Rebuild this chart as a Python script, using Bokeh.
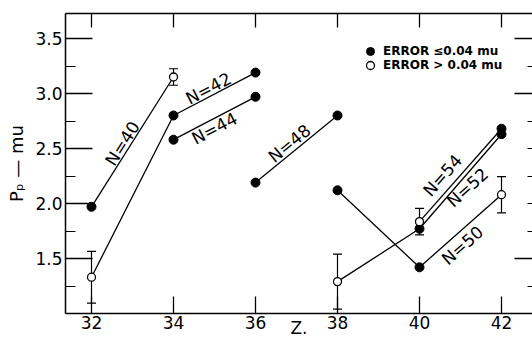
import math
from bokeh.plotting import figure
from bokeh.models import (Range1d, FixedTicker, LinearAxis, Label, Whisker,
                          ColumnDataSource, Legend, LegendItem, TeeHead, PrintfTickFormatter)
from bokeh.embed import file_html
from bokeh.resources import INLINE

# ---------------- data ----------------
series_names = ["N=40", "N=42", "N=44", "N=48", "N=50", "N=52", "N=54"]
series_z = [[32, 34], [32, 34, 36], [34, 36], [36, 38], [38, 40, 42], [38, 40, 42], [40, 42]]
series_p = [[1.97, 3.15], [1.33, 2.80, 3.19], [2.58, 2.97], [2.19, 2.80],
            [2.12, 1.42, 2.08], [1.29, 1.77, 2.63], [1.835, 2.68]]

filled_z = [32, 34, 34, 36, 36, 36, 38, 38, 40, 40, 42, 42]
filled_p = [1.97, 2.80, 2.58, 3.19, 2.97, 2.19, 2.80, 2.12, 1.42, 1.77, 2.63, 2.68]

open_z = [32, 34, 38, 40, 42]
open_p = [1.33, 3.15, 1.29, 1.835, 2.08]
open_err = [0.235, 0.075, 0.25, 0.12, 0.165]

x_ticks = [32, 34, 36, 38, 40, 42]
y_ticks = [1.5, 2.0, 2.5, 3.0, 3.5]
y_minor = [1.25, 1.75, 2.25, 2.75, 3.25]
right_major = [1.5, 3.0, 3.5]
right_minor = [1.25, 1.75, 2.0, 2.25, 2.5, 2.75, 3.25]
legend_labels = ["ERROR \u22640.04 mu", "ERROR > 0.04 mu"]
x_title = "Z."
y_title = "P\u209a \u2014 mu"

# ---------------- layout ----------------
W, H = 532, 340
FL, FT, FB = 65, 13, 27           # frame borders (px)
PXU_X, PXU_Y = 41.0, 110.0        # pixels per unit
X0 = 32 - 26 / PXU_X
X1 = X0 + (W - FL) / PXU_X
Y0 = 1.0
Y1 = Y0 + (H - FT - FB) / PXU_Y
FRAME_BOTTOM = H - FB


def fx(px):
    return X0 + (px - FL) / PXU_X


def fy(py):
    return Y0 + (FRAME_BOTTOM - py) / PXU_Y


FONT = "DejaVu Sans"

p = figure(width=W, height=H, x_range=Range1d(X0, X1), y_range=Range1d(Y0, Y1),
           output_backend="svg", toolbar_location=None,
           x_axis_location=None, y_axis_location=None,
           min_border_left=FL, min_border_right=0, min_border_top=FT, min_border_bottom=FB,
           outline_line_color=None, background_fill_color="white", border_fill_color="white")
p.grid.visible = False

ax_common = dict(axis_line_color="black", axis_line_width=1.5,
                 major_tick_line_color="black", major_tick_line_width=1.3,
                 minor_tick_line_color="black", minor_tick_line_width=1.2,
                 major_tick_out=0, minor_tick_out=0,
                 major_label_text_font=FONT, major_label_text_font_size="17px",
                 major_label_text_color="black",
                 axis_label_text_font=FONT, axis_label_text_font_style="normal",
                 axis_label_text_color="black")
hidden_labels = dict(major_label_text_font_size="1px", major_label_text_color=None,
                     major_label_standoff=0)

bottom = LinearAxis(ticker=FixedTicker(ticks=x_ticks), major_tick_in=17, minor_tick_in=0,
                    major_label_standoff=2, axis_label=x_title,
                    axis_label_text_font_size="17px", axis_label_standoff=-14, **ax_common)
p.add_layout(bottom, "below")

top = LinearAxis(ticker=FixedTicker(ticks=x_ticks), major_tick_in=14, minor_tick_in=0,
                 **{**ax_common, **hidden_labels})
p.add_layout(top, "above")

left = LinearAxis(ticker=FixedTicker(ticks=y_ticks, minor_ticks=y_minor), major_tick_in=27,
                  minor_tick_in=10, major_label_standoff=3,
                  formatter=PrintfTickFormatter(format="%.1f"),
                  axis_label=y_title, axis_label_text_font_size="18px",
                  axis_label_standoff=5, **ax_common)
p.add_layout(left, "left")

right = LinearAxis(ticker=FixedTicker(ticks=right_major, minor_ticks=right_minor),
                   major_tick_in=18, minor_tick_in=5,
                   **{**ax_common, **hidden_labels, "axis_line_color": None})
p.add_layout(right, "right")

# lines
for zs, ps in zip(series_z, series_p):
    p.line(zs, ps, line_color="black", line_width=1.3)

# error bars
err_src = ColumnDataSource(dict(z=open_z,
                                upper=[v + e for v, e in zip(open_p, open_err)],
                                lower=[v - e for v, e in zip(open_p, open_err)]))
wh = Whisker(base="z", upper="upper", lower="lower", source=err_src,
             line_color="black", line_width=1.2,
             upper_head=TeeHead(size=9, line_color="black", line_width=1.2),
             lower_head=TeeHead(size=9, line_color="black", line_width=1.2))
p.add_layout(wh)

filled_r = p.scatter(filled_z, filled_p, size=9, fill_color="black", line_color="black")
open_r = p.scatter(open_z, open_p, size=8, fill_color="white", line_color="black", line_width=1.3)

# series labels (px positions of label centres)
label_pos = {"N=40": (122, 143), "N=42": (208, 88), "N=44": (214, 128), "N=48": (289, 143),
             "N=50": (462, 245), "N=52": (467, 187), "N=54": (442, 175)}
for name, zs, ps in zip(series_names, series_z, series_p):
    if name in ("N=50", "N=42"):
        za, zb, pa, pb = zs[1], zs[2], ps[1], ps[2]
    else:
        za, zb, pa, pb = zs[0], zs[-1], ps[0], ps[-1]
    ang = math.atan2((pb - pa) * PXU_Y, (zb - za) * PXU_X)
    px, py = label_pos[name]
    p.add_layout(Label(x=fx(px), y=fy(py), text=name, angle=ang, text_align="center",
                       text_baseline="middle", text_font=FONT, text_font_size="17px",
                       text_color="black"))

# legend: two one-row legends so that the rows sit close together
leg_style = dict(orientation="vertical", glyph_width=20, glyph_height=20, label_height=20,
                 spacing=0, padding=0, margin=0, label_standoff=3,
                 label_text_font=FONT, label_text_font_size="12px",
                 label_text_font_style="bold", label_text_color="black",
                 border_line_color=None, background_fill_alpha=0)
leg1 = Legend(items=[LegendItem(label=legend_labels[0], renderers=[filled_r])],
              location=(360 - FL, FRAME_BOTTOM - 61), **leg_style)
leg2 = Legend(items=[LegendItem(label=legend_labels[1], renderers=[open_r])],
              location=(360 - FL, FRAME_BOTTOM - 75), **leg_style)
p.add_layout(leg1)
p.add_layout(leg2)

open("out.html", "w").write(file_html(p, INLINE))
